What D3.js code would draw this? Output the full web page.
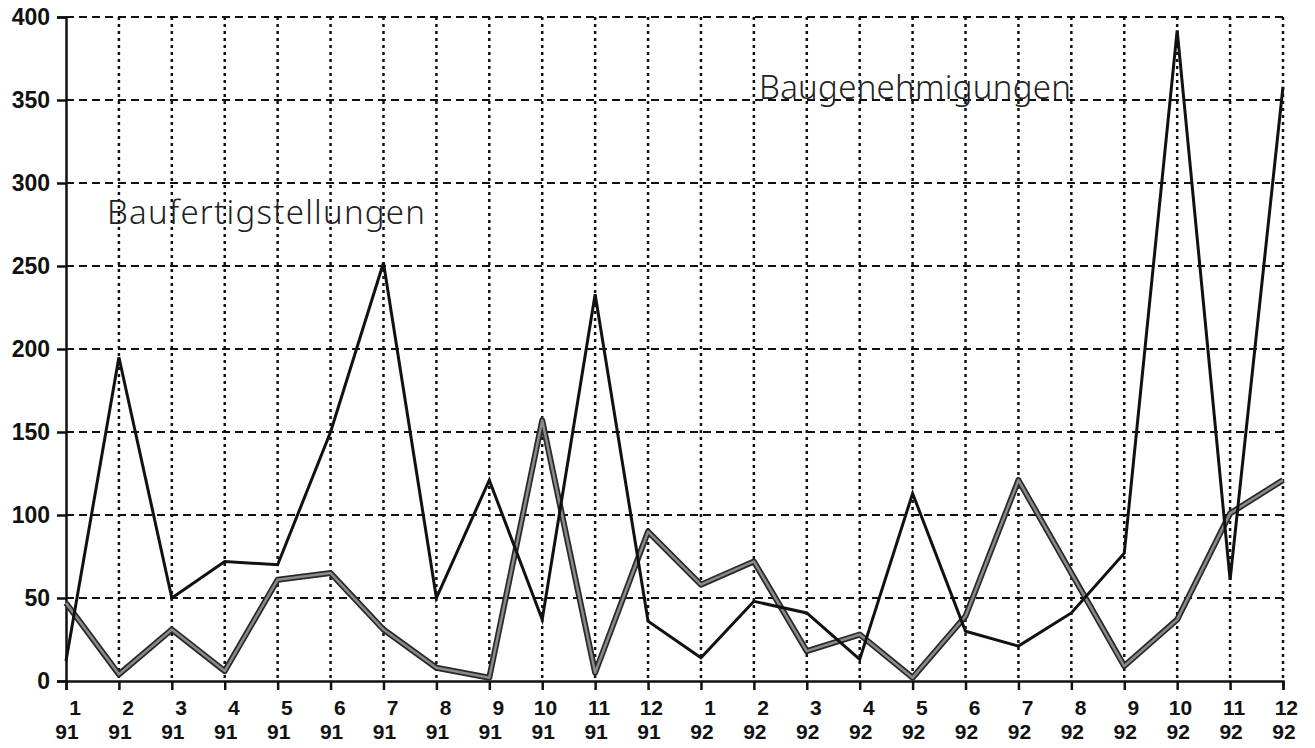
<!DOCTYPE html>
<html>
<head>
<meta charset="utf-8">
<script src="https://cdn.jsdelivr.net/npm/d3@7"></script>
<style>
  body { margin: 0; background: #fff; }
  svg { display: block; }
</style>
</head>
<body>
<svg id="chart" width="1315" height="748"></svg>
<script>
// month labels (top line) and year labels (bottom line)
const months = ['1','2','3','4','5','6','7','8','9','10','11','12',
                '1','2','3','4','5','6','7','8','9','10','11','12'];
const years = ['91','91','91','91','91','91','91','91','91','91','91','91',
               '92','92','92','92','92','92','92','92','92','92','92','92'];

// Baugenehmigungen (thin line)
const genehmigungen = [12, 195, 50, 72, 70, 150, 252, 50, 121, 37, 233, 36,
                       14, 48, 41, 13, 113, 30, 21, 41, 77, 392, 61, 358];
// Baufertigstellungen (thick line)
const fertigstellungen = [47, 4, 31, 6, 61, 65, 31, 8, 2, 157, 5, 90,
                          58, 72, 18, 28, 2, 39, 121, 65, 9, 37, 101, 121];

const yTicks = [0, 50, 100, 150, 200, 250, 300, 350, 400];

const margin = { top: 17, right: 32, bottom: 67, left: 66 };
const width = 1315, height = 748;

const svg = d3.select('#chart');

const xScale = d3.scalePoint()
    .domain(d3.range(months.length))
    .range([margin.left, width - margin.right]);

const yScale = d3.scaleLinear()
    .domain([0, 400])
    .range([height - margin.bottom, margin.top]);

const ink = '#111';

// horizontal dashed grid
svg.append('g')
    .selectAll('line')
    .data(yTicks.filter(d => d > 0))
    .join('line')
    .attr('x1', margin.left)
    .attr('x2', width - margin.right)
    .attr('y1', d => yScale(d))
    .attr('y2', d => yScale(d))
    .attr('stroke', ink)
    .attr('stroke-width', 2)
    .attr('stroke-dasharray', '8,5');

// vertical dotted grid
svg.append('g')
    .selectAll('line')
    .data(d3.range(1, months.length))
    .join('line')
    .attr('x1', d => xScale(d))
    .attr('x2', d => xScale(d))
    .attr('y1', yScale(400))
    .attr('y2', yScale(0))
    .attr('stroke', ink)
    .attr('stroke-width', 2.5)
    .attr('stroke-dasharray', '3,4');

// y axis
const yAxis = d3.axisLeft(yScale)
    .tickValues(yTicks)
    .tickSize(9)
    .tickPadding(7);

const gy = svg.append('g')
    .attr('transform', `translate(${margin.left},0)`)
    .call(yAxis);
gy.select('.domain').attr('stroke', ink).attr('stroke-width', 2.5);
gy.selectAll('.tick line').attr('stroke', ink).attr('stroke-width', 2.5);
gy.selectAll('.tick text')
    .attr('fill', ink)
    .style('font', 'bold 23px "Liberation Sans", Arial, sans-serif');

// x axis
const xAxis = d3.axisBottom(xScale)
    .tickSize(9)
    .tickFormat(() => '');

const gx = svg.append('g')
    .attr('transform', `translate(0,${yScale(0)})`)
    .call(xAxis);
gx.select('.domain').attr('stroke', ink).attr('stroke-width', 2.5);
gx.selectAll('.tick line').attr('stroke', ink).attr('stroke-width', 2.5);

const xLabels = svg.append('g')
    .style('font', 'bold 21px "Liberation Sans", Arial, sans-serif')
    .attr('fill', ink);

xLabels.selectAll('text.m')
    .data(months)
    .join('text')
    .attr('class', 'm')
    .attr('text-anchor', 'end')
    .attr('x', (d, i) => xScale(i) + 15)
    .attr('y', yScale(0) + 34)
    .text(d => d);

xLabels.selectAll('text.y')
    .data(years)
    .join('text')
    .attr('class', 'y')
    .attr('text-anchor', 'middle')
    .attr('x', (d, i) => xScale(i) + 1)
    .attr('y', yScale(0) + 58)
    .text(d => d);

const line = d3.line()
    .x((d, i) => xScale(i))
    .y(d => yScale(d));

// thick line: dark outline with a grey core
svg.append('path')
    .datum(fertigstellungen)
    .attr('fill', 'none')
    .attr('stroke', '#2a2a2a')
    .attr('stroke-width', 6)
    .attr('stroke-linejoin', 'round')
    .attr('d', line);

svg.append('path')
    .datum(fertigstellungen)
    .attr('fill', 'none')
    .attr('stroke', '#8a8a8a')
    .attr('stroke-width', 2.5)
    .attr('stroke-linejoin', 'round')
    .attr('d', line);

// thin line
svg.append('path')
    .datum(genehmigungen)
    .attr('fill', 'none')
    .attr('stroke', ink)
    .attr('stroke-width', 3)
    .attr('stroke-linejoin', 'miter')
    .attr('d', line);

// series labels
const labelFont = '300 33px "Noto Sans", "DejaVu Sans", sans-serif';
svg.append('text')
    .attr('x', 107)
    .attr('y', 224)
    .attr('textLength', 318)
    .attr('fill', '#222')
    .style('font', labelFont)
    .text('Baufertigstellungen');

svg.append('text')
    .attr('x', 759)
    .attr('y', 99)
    .attr('textLength', 312)
    .attr('fill', '#222')
    .style('font', labelFont)
    .text('Baugenehmigungen');
</script>
</body>
</html>
